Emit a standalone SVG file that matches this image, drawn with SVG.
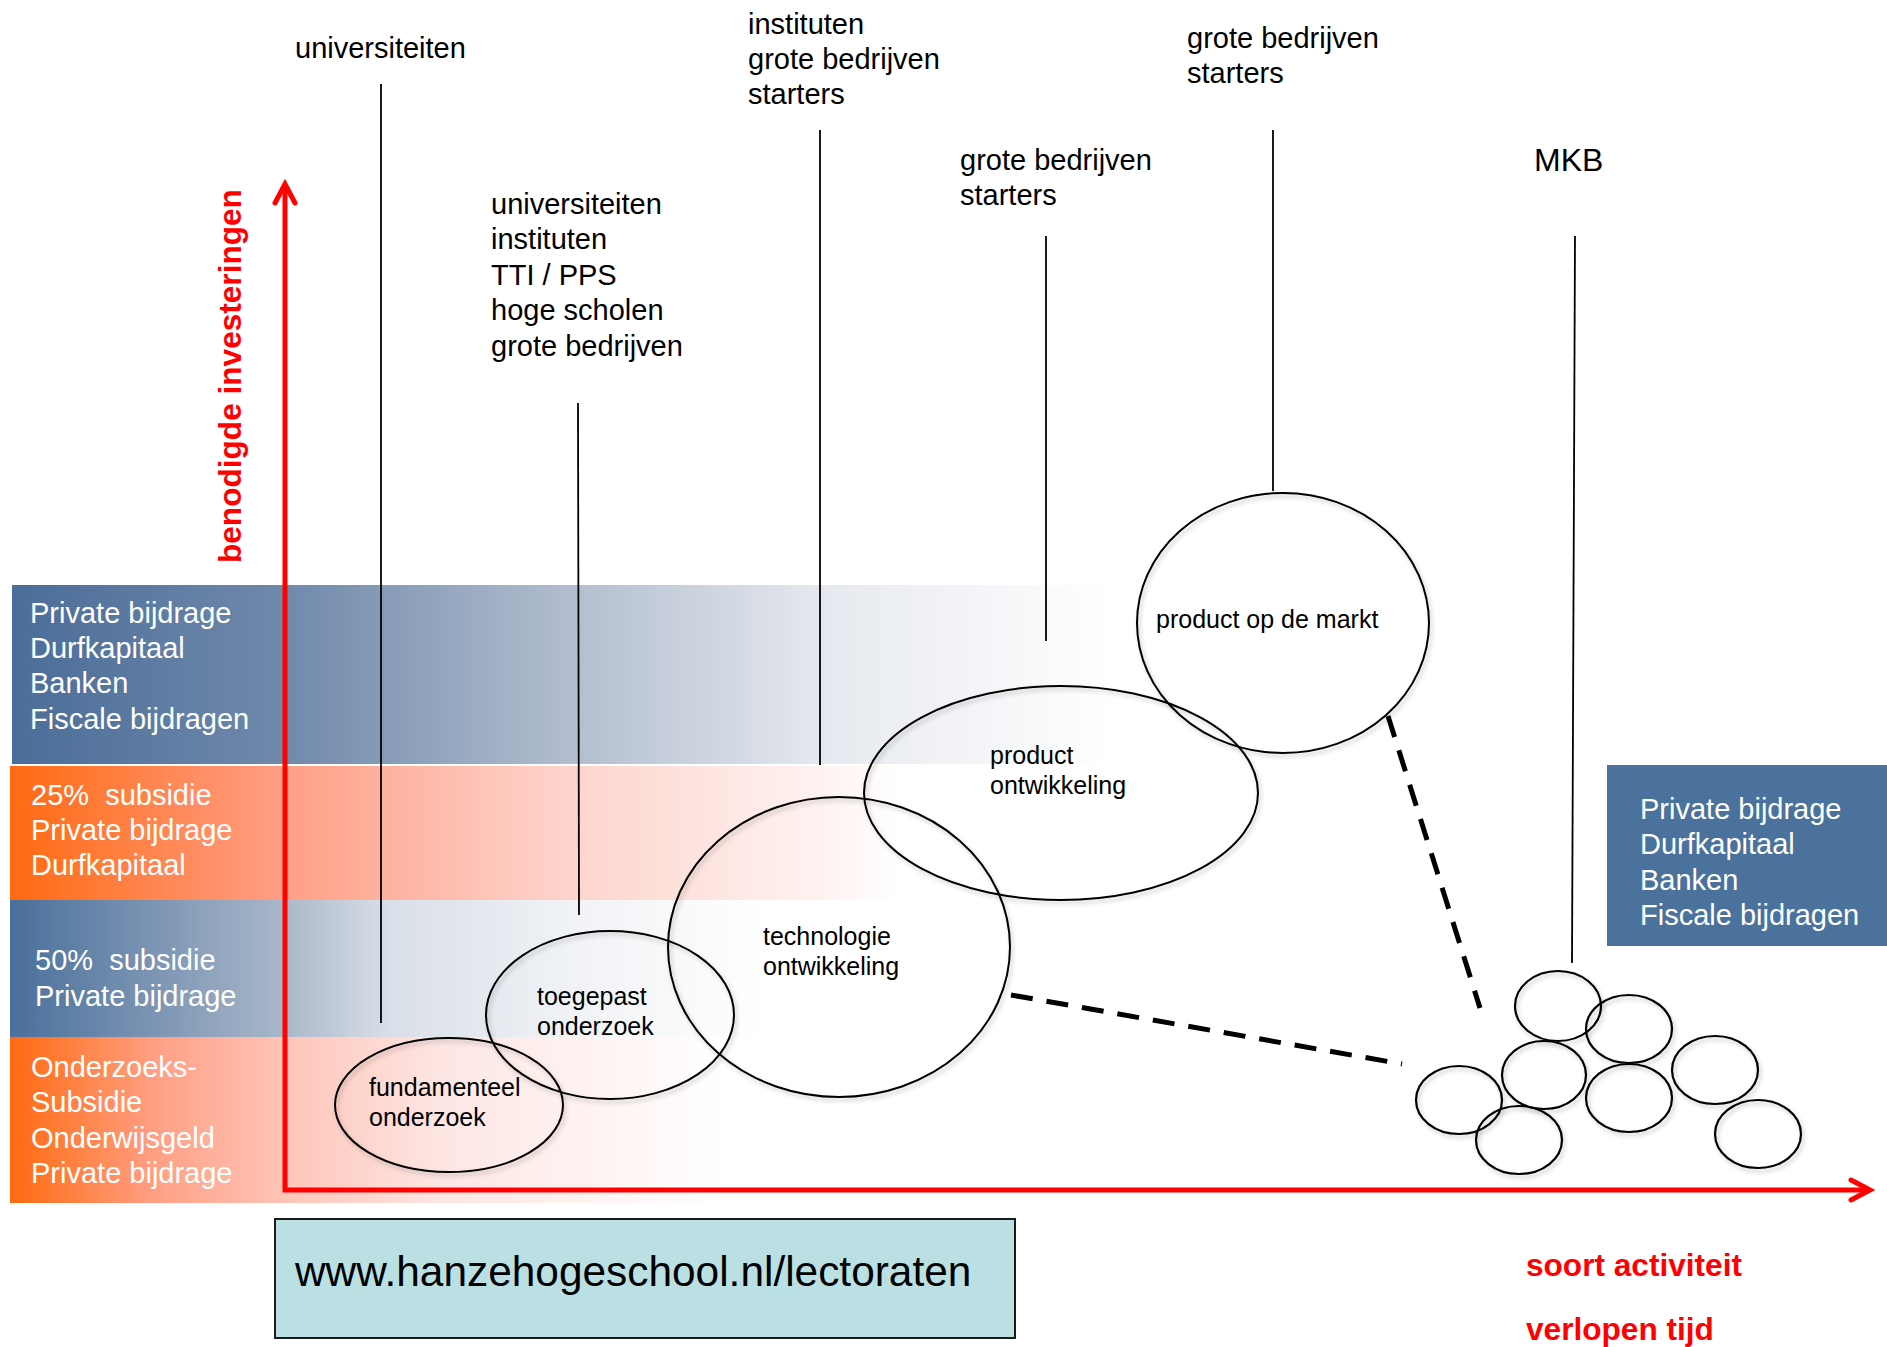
<svg xmlns="http://www.w3.org/2000/svg" width="1887" height="1347" viewBox="0 0 1887 1347">
  <style>
    text { white-space: pre; }
    .lbl { font-family: "Liberation Sans", Arial, sans-serif; font-size: 29px; fill: #000; }
    .mkb { font-family: "Liberation Sans", Arial, sans-serif; font-size: 32px; fill: #000; }
    .node-lbl { font-family: "Liberation Sans", Arial, sans-serif; font-size: 25px; fill: #000; }
    .band-txt { font-family: "Liberation Sans", Arial, sans-serif; font-size: 29px; fill: #fff; }
    .axis-lbl { font-family: "Liberation Sans", Arial, sans-serif; font-size: 31.6px; font-weight: bold; fill: #ff0000; }
    .url { font-family: "Liberation Sans", Arial, sans-serif; font-size: 42.4px; fill: #000; }
    .stage { fill: none; stroke: #000; stroke-width: 2; filter: url(#soft); }
    .blob { fill: none; stroke: #000; stroke-width: 2.2; filter: url(#soft); }
    .lead { stroke: #000; stroke-width: 1.8; fill: none; }
    .dash { stroke: #000; stroke-width: 5; stroke-dasharray: 22 14; fill: none; }
    .axis { stroke: #ff0000; stroke-width: 5; fill: none; stroke-linejoin: miter; }
    .tip { stroke: #ff0000; stroke-width: 5; fill: none; stroke-linecap: round; stroke-linejoin: miter; }
  </style>
  <defs>
    <filter id="soft" x="-10%" y="-10%" width="130%" height="130%">
      <feDropShadow dx="2" dy="3" stdDeviation="2" flood-color="#000" flood-opacity="0.22"/>
    </filter>
    <linearGradient id="gBlue1" x1="0" y1="0" x2="1" y2="0">
      <stop offset="0" stop-color="#4b6d99"/>
      <stop offset="0.25" stop-color="#7089ab"/>
      <stop offset="0.5" stop-color="#b0bccd"/>
      <stop offset="0.74" stop-color="#e6e9ef"/>
      <stop offset="1" stop-color="#ffffff"/>
    </linearGradient>
    <linearGradient id="gOrange2" x1="0" y1="0" x2="1" y2="0">
      <stop offset="0" stop-color="#ff6a12"/>
      <stop offset="0.3" stop-color="#ff9d84"/>
      <stop offset="0.62" stop-color="#fdd3cb"/>
      <stop offset="0.9" stop-color="#fef1ef"/>
      <stop offset="1" stop-color="#ffffff"/>
    </linearGradient>
    <linearGradient id="gBlue3" x1="0" y1="0" x2="1" y2="0">
      <stop offset="0" stop-color="#4a6f9b"/>
      <stop offset="0.36" stop-color="#a9b7c9"/>
      <stop offset="0.5" stop-color="#d9dfe8"/>
      <stop offset="0.75" stop-color="#f1f3f6"/>
      <stop offset="1" stop-color="#ffffff"/>
    </linearGradient>
    <linearGradient id="gOrange4" x1="0" y1="0" x2="1" y2="0">
      <stop offset="0" stop-color="#ff6a10"/>
      <stop offset="0.2" stop-color="#ff9f84"/>
      <stop offset="0.39" stop-color="#fec6ba"/>
      <stop offset="0.6" stop-color="#fde6e3"/>
      <stop offset="1" stop-color="#ffffff"/>
    </linearGradient>
  </defs>

  <rect width="1887" height="1347" fill="#fff"/>

  <!-- funding bands -->
  <g id="band-private">
    <rect x="12" y="585" width="1100" height="179" fill="url(#gBlue1)"/>
    <text class="band-txt" x="30" y="623">Private bijdrage</text>
    <text class="band-txt" x="30" y="658">Durfkapitaal</text>
    <text class="band-txt" x="30" y="693">Banken</text>
    <text class="band-txt" x="30" y="729">Fiscale bijdragen</text>
  </g>
  <g id="band-25">
    <rect x="10" y="766" width="890" height="134" fill="url(#gOrange2)"/>
    <text class="band-txt" x="31" y="805" xml:space="preserve">25%  subsidie</text>
    <text class="band-txt" x="31" y="840">Private bijdrage</text>
    <text class="band-txt" x="31" y="875">Durfkapitaal</text>
  </g>
  <g id="band-50">
    <rect x="10" y="900" width="760" height="137" fill="url(#gBlue3)"/>
    <text class="band-txt" x="35" y="970" xml:space="preserve">50%  subsidie</text>
    <text class="band-txt" x="35" y="1006">Private bijdrage</text>
  </g>
  <g id="band-research">
    <rect x="10" y="1037" width="720" height="166" fill="url(#gOrange4)"/>
    <text class="band-txt" x="31" y="1077">Onderzoeks-</text>
    <text class="band-txt" x="31" y="1112">Subsidie</text>
    <text class="band-txt" x="31" y="1148">Onderwijsgeld</text>
    <text class="band-txt" x="31" y="1183">Private bijdrage</text>
  </g>

  <!-- actor labels -->
  <g id="actors-1">
    <text class="lbl" x="295" y="58">universiteiten</text>
  </g>
  <g id="actors-2">
    <text class="lbl" x="491" y="214">universiteiten</text>
    <text class="lbl" x="491" y="249">instituten</text>
    <text class="lbl" x="491" y="285">TTI / PPS</text>
    <text class="lbl" x="491" y="320">hoge scholen</text>
    <text class="lbl" x="491" y="356">grote bedrijven</text>
  </g>
  <g id="actors-3">
    <text class="lbl" x="748" y="34">instituten</text>
    <text class="lbl" x="748" y="69">grote bedrijven</text>
    <text class="lbl" x="748" y="104">starters</text>
  </g>
  <g id="actors-4">
    <text class="lbl" x="960" y="170">grote bedrijven</text>
    <text class="lbl" x="960" y="205">starters</text>
  </g>
  <g id="actors-5">
    <text class="lbl" x="1187" y="48">grote bedrijven</text>
    <text class="lbl" x="1187" y="83">starters</text>
  </g>
  <g id="actors-6">
    <text class="mkb" x="1534" y="171">MKB</text>
  </g>

  <!-- connectors -->
  <g id="connectors">
    <line class="lead" x1="381" y1="84" x2="381" y2="1023"/>
    <line class="lead" x1="578" y1="403" x2="579" y2="915"/>
    <line class="lead" x1="820" y1="130" x2="820" y2="765"/>
    <line class="lead" x1="1046" y1="236" x2="1046" y2="641"/>
    <line class="lead" x1="1273" y1="130" x2="1273" y2="491"/>
    <line class="lead" x1="1575" y1="236" x2="1572" y2="963"/>
    <line class="dash" x1="1011" y1="995" x2="1402" y2="1064"/>
    <line class="dash" x1="1388" y1="716" x2="1480" y2="1008"/>
  </g>

  <!-- development stages -->
  <g id="stage-fundamenteel">
    <ellipse class="stage" cx="449" cy="1105" rx="114" ry="67"/>
    <text class="node-lbl" x="369" y="1096">fundamenteel</text>
    <text class="node-lbl" x="369" y="1126">onderzoek</text>
  </g>
  <g id="stage-toegepast">
    <ellipse class="stage" cx="610" cy="1015" rx="124" ry="84"/>
    <text class="node-lbl" x="537" y="1005">toegepast</text>
    <text class="node-lbl" x="537" y="1035">onderzoek</text>
  </g>
  <g id="stage-technologie">
    <ellipse class="stage" cx="839" cy="947" rx="171" ry="150"/>
    <text class="node-lbl" x="763" y="945">technologie</text>
    <text class="node-lbl" x="763" y="975">ontwikkeling</text>
  </g>
  <g id="stage-product">
    <ellipse class="stage" cx="1061" cy="793" rx="197" ry="107"/>
    <text class="node-lbl" x="990" y="764">product</text>
    <text class="node-lbl" x="990" y="794">ontwikkeling</text>
  </g>
  <g id="stage-markt">
    <ellipse class="stage" cx="1283" cy="623" rx="146" ry="130"/>
    <text class="node-lbl" x="1156" y="628">product op de markt</text>
  </g>

  <!-- SME cluster -->
  <g id="mkb-cluster">
    <ellipse class="blob" cx="1558" cy="1006" rx="43" ry="35"/>
    <ellipse class="blob" cx="1629" cy="1029" rx="43" ry="34"/>
    <ellipse class="blob" cx="1544" cy="1075" rx="42" ry="34"/>
    <ellipse class="blob" cx="1459" cy="1100" rx="43" ry="34"/>
    <ellipse class="blob" cx="1519" cy="1140" rx="43" ry="34"/>
    <ellipse class="blob" cx="1629" cy="1098" rx="43" ry="34"/>
    <ellipse class="blob" cx="1715" cy="1070" rx="43" ry="34"/>
    <ellipse class="blob" cx="1758" cy="1134" rx="43" ry="34"/>
  </g>

  <g id="mkb-funding">
    <rect x="1607" y="765" width="280" height="181" fill="#4a729c"/>
    <text class="band-txt" x="1640" y="819">Private bijdrage</text>
    <text class="band-txt" x="1640" y="854">Durfkapitaal</text>
    <text class="band-txt" x="1640" y="890">Banken</text>
    <text class="band-txt" x="1640" y="925">Fiscale bijdragen</text>
  </g>

  <!-- axes -->
  <g id="axes">
    <path class="axis" d="M285,186 V1190 H1868"/>
    <polyline class="tip" points="275,203 285,184 295,203"/>
    <polyline class="tip" points="1851,1180 1870,1190 1851,1200"/>
    <text class="axis-lbl" transform="translate(241,563) rotate(-90)">benodigde investeringen</text>
    <text class="axis-lbl" x="1526" y="1276">soort activiteit</text>
    <text class="axis-lbl" x="1526" y="1340">verlopen tijd</text>
  </g>

  <g id="url-box">
    <rect x="275" y="1219" width="740" height="119" fill="#bbe0e3" stroke="#1a1a1a" stroke-width="2"/>
    <text class="url" x="295" y="1286">www.hanzehogeschool.nl/lectoraten</text>
  </g>
</svg>
